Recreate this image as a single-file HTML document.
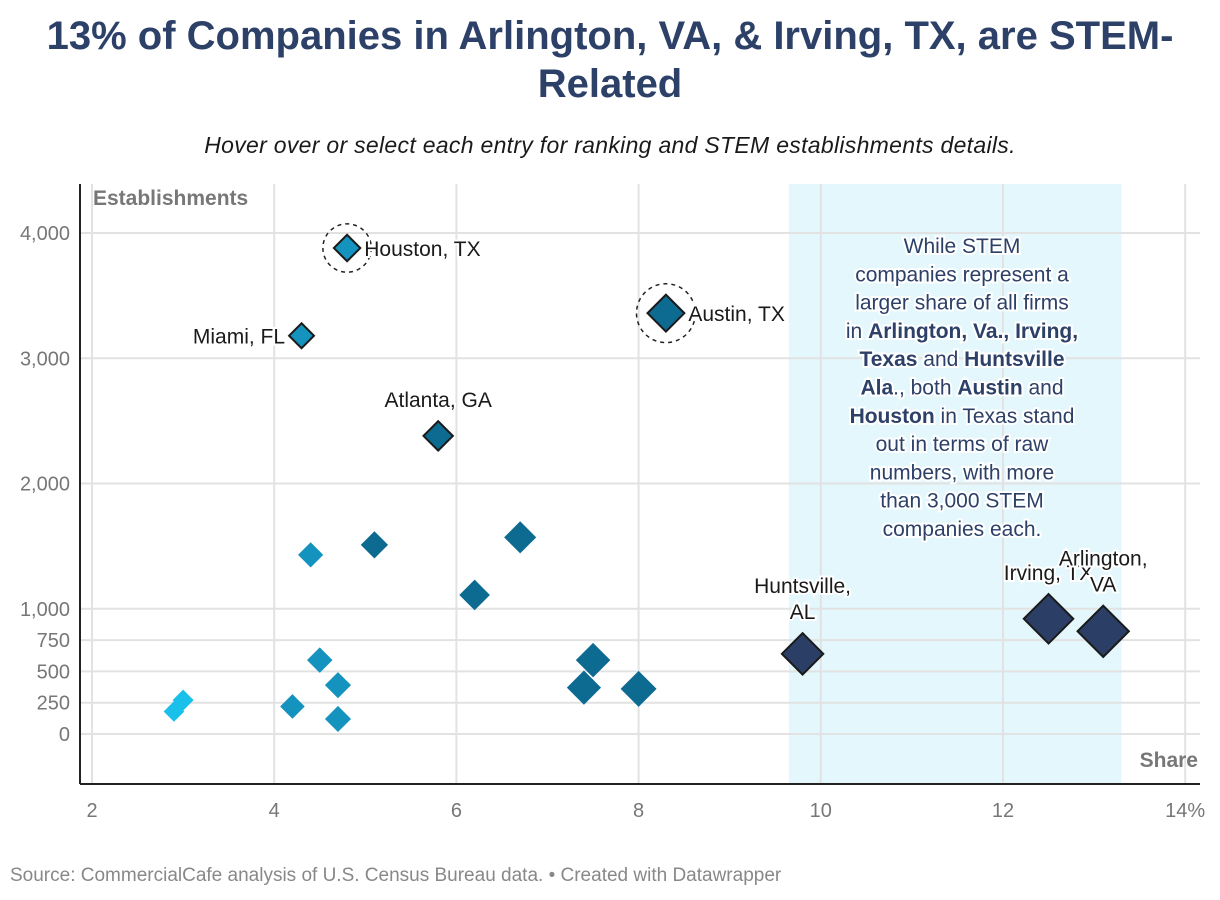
<!DOCTYPE html>
<html><head><meta charset="utf-8"><style>
body{margin:0;background:#fff;width:1220px;height:900px;overflow:hidden;font-family:"Liberation Sans",sans-serif}
#title{position:absolute;left:0;width:1220px;top:12px;text-align:center;font-size:40px;font-weight:bold;color:#2c4068;line-height:48px}
#sub{position:absolute;left:0;width:1220px;top:132px;text-align:center;font-size:23px;font-style:italic;color:#1a1a1a;letter-spacing:0.3px}
#src{position:absolute;left:10px;top:865px;font-size:19px;color:#888}
svg{position:absolute;left:0;top:0}
</style></head><body>
<div id="title">13% of Companies in Arlington, VA, &amp; Irving, TX, are STEM-<br>Related</div>
<div id="sub">Hover over or select each entry for ranking and STEM establishments details.</div>
<div id="src">Source: CommercialCafe analysis of U.S. Census Bureau data. • Created with Datawrapper</div>
<svg id="chart" width="1220" height="900"></svg>
<script>
const shares=[4.8,8.3,4.3,5.8,4.4,5.1,6.7,6.2,4.5,4.7,4.2,4.7,3.0,2.9,7.5,7.4,8.0,9.8,12.5,13.1];
const establishments=[3880,3360,3180,2380,1430,1510,1570,1110,590,390,220,120,270,180,590,370,360,640,920,820];
const cityLabels=["Houston, TX","Austin, TX","Miami, FL","Atlanta, GA","","","","","","","","","","","","","","Huntsville,|AL","Irving, TX","Arlington,|VA"];
const xTicks=[2,4,6,8,10,12,14];
const yTicks=[0,250,500,750,1000,2000,3000,4000];
const yTickLabels=["0","250","500","750","1,000","2,000","3,000","4,000"];
const NS="http://www.w3.org/2000/svg",svg=document.getElementById('chart');
const X=v=>92+(v-2)*91.1, Y=v=>734-v*0.12525;
function mk(t,a,p){const e=document.createElementNS(NS,t);for(const k in a)e.setAttribute(k,a[k]);(p||svg).appendChild(e);return e;}
let b=mk('rect',{x:X(9.65),y:184,width:X(13.3)-X(9.65),height:600,fill:'#e3f7fc'});


xTicks.forEach(t=>{let l=mk('line',{x1:X(t),x2:X(t),y1:184,y2:784,stroke:'#e2e2e2','stroke-width':2});


let tx=mk('text',{x:X(t),y:817,'text-anchor':'middle','font-size':20,fill:'#777'});tx.textContent=t+(t==14?'%':'');

});
yTicks.forEach((t,i)=>{let l=mk('line',{x1:80,x2:1200,y1:Y(t),y2:Y(t),stroke:'#e2e2e2','stroke-width':2});


let tx=mk('text',{x:70,y:Y(t)+7,'text-anchor':'end','font-size':20,fill:'#777'});tx.textContent=yTickLabels[i];

});
mk('line',{x1:80,x2:80,y1:184,y2:784,stroke:'#222','stroke-width':2});
mk('line',{x1:80,x2:1200,y1:784,y2:784,stroke:'#222','stroke-width':2});
let yt=mk('text',{x:93,y:205,'font-size':21,'font-weight':'bold',fill:'#777'});yt.textContent='Establishments';

let xt=mk('text',{x:1198,y:767,'text-anchor':'end','font-size':21,'font-weight':'bold',fill:'#777'});xt.textContent='Share';

const ann=[["While STEM"],["companies represent a"],["larger share of all firms"],["in ",["Arlington, Va., Irving,"]],[["Texas"]," and ",["Huntsville"]],[["Ala"],"., both ",["Austin"]," and"],[["Houston"]," in Texas stand"],["out in terms of raw"],["numbers, with more"],["than 3,000 STEM"],["companies each."]];
ann.forEach((ln,i)=>{let t=mk('text',{x:962,y:253+i*28.3,'text-anchor':'middle','font-size':21,fill:'#2c4068',stroke:'#fff','stroke-width':4,'paint-order':'stroke'});

ln.forEach(p=>{let s=mk('tspan',{},t);if(Array.isArray(p)){s.setAttribute('font-weight','bold');s.textContent=p[0];}else s.textContent=p;});});
function col(s){return s<3.5?'#19c0ea':s<5?'#1593bf':s<9?'#0d6a91':'#2b3f66';}
shares.forEach((s,i)=>{const cx=X(s),cy=Y(establishments[i]),h=6+1.5*s;
if(i<2){let c=mk('circle',{cx,cy,r:h+11,fill:'none',stroke:'#222','stroke-width':1.5,'stroke-dasharray':'4 4'});
}
let p=mk('polygon',{points:`${cx},${cy-h} ${cx+h},${cy} ${cx},${cy+h} ${cx-h},${cy}`,fill:col(s),stroke:(i<4||s>9)?'#1a1a1a':'none','stroke-width':2});

const L=cityLabels[i];if(!L)return;const parts=L.split('|');
let ax,ay,anc;
if(i==0||i==1){ax=cx+h+4;ay=cy+8;anc='start';}
else if(i==2){ax=cx-h-4;ay=cy+8;anc='end';}
else{ax=cx;anc='middle';ay=cy-h-14-(parts.length-1)*26;}
if(i==18){ay=cy-h-14;}
if(i==19){ay=cy-h-40;}
parts.forEach((pt,j)=>{let t=mk('text',{x:ax,y:ay+j*26,'text-anchor':anc,'font-size':21,fill:'#1a1a1a',stroke:'#fff','stroke-width':4,'paint-order':'stroke'});t.textContent=pt;
});});
</script>
</body></html>
